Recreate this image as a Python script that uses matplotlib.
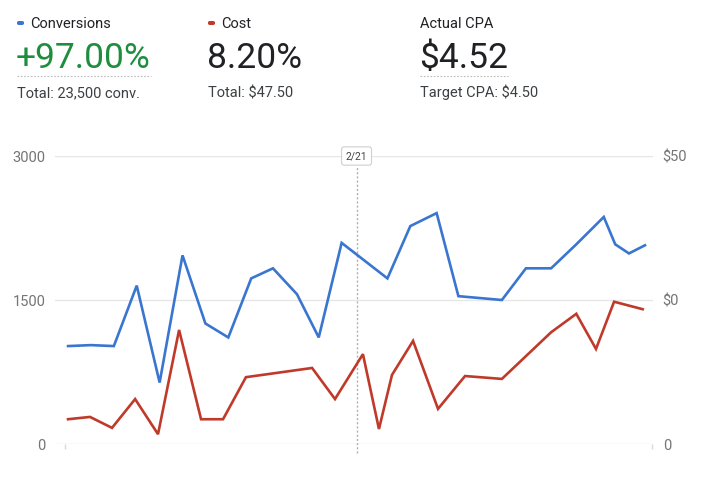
import matplotlib.pyplot as plt
from matplotlib.patches import FancyBboxPatch
from matplotlib.lines import Line2D

plt.rcParams['font.family'] = ['Roboto', 'DejaVu Sans']

# 数据
conv_days = [0, 1, 2, 3, 4, 5, 6, 7, 8, 8.95, 10, 10.95, 11.95, 13.95, 14.95,
             16.1, 17.05, 18.95, 20, 21.1, 22.2, 23.4, 23.9, 24.5, 25.2]
conversions = [1020, 1030, 1020, 1650, 640, 1965, 1255, 1110, 1725, 1830, 1560, 1110,
               2095, 1725, 2270, 2405, 1540, 1500, 1830, 1830, 2080, 2365, 2080, 1985, 2070]

cost_days = [0, 0.96, 1.92, 2.93, 3.93, 4.85, 5.81, 6.77, 7.77, 10.66, 11.66, 12.88,
             13.58, 14.15, 15.07, 16.16, 17.34, 18.95, 21.1, 22.2, 23.06, 23.85, 25.1]
cost = [4.3, 4.7, 2.8, 7.8, 1.7, 19.8, 4.3, 4.3, 11.6, 13.2, 7.8, 15.6,
        2.6, 12.0, 17.9, 6.1, 11.8, 11.3, 19.4, 22.6, 16.5, 24.7, 23.4]

left_ticks = [0, 1500, 3000]
left_labels = ['0', '1500', '3000']
right_ticks = [0, 25, 50]
right_labels = ['0', '$0', '$50']

marker_day = 12.6
marker_label = '2/21'

# 顶部指标
metrics = [
    ('Conversions', '+97.00%', 'Total: 23,500 conv.', '#3a76d0', '#1e8e3e', True),
    ('Cost', '8.20%', 'Total: $47.50', '#c03a2b', '#202124', False),
    ('Actual CPA', '$4.52', 'Target CPA: $4.50', None, '#202124', True),
]
metric_x = [17, 208, 420]

BLUE = '#3a76d0'
RED = '#c03a2b'
W, H = 705, 486


def px(x, y):
    return x / W, 1 - y / H


fig = plt.figure(figsize=(7.05, 4.86), dpi=100)

# 图表区域
l, b = px(55, 444)
ax = fig.add_axes([l, b, 598 / W, 288 / H])
ax.set_xlim(-0.57, 25.55)
ax.set_ylim(0, 3000)
for s in ax.spines.values():
    s.set_visible(False)
ax.set_xticks([])
ax.set_yticks(left_ticks)
ax.set_yticklabels(left_labels)
ax.tick_params(axis='y', length=0, pad=7, labelsize=10.5, labelcolor='#757575')
for t in left_ticks:
    ax.axhline(t, color='#e6e6e6' if t else '#e0e0e0', lw=1, zorder=0)

ax.plot(conv_days, conversions, color=BLUE, lw=1.9, solid_joinstyle='miter', zorder=3)

ax2 = ax.twinx()
ax2.set_ylim(0, 50)
for s in ax2.spines.values():
    s.set_visible(False)
ax2.set_yticks(right_ticks)
ax2.set_yticklabels(right_labels)
ax2.tick_params(axis='y', length=0, pad=7, labelsize=10.5, labelcolor='#757575')
ax2.plot(cost_days, cost, color=RED, lw=1.9, solid_joinstyle='miter', zorder=3)

# 小刻度
ax.vlines([-0.13, 25.5], -50, 0, color='#dadada', lw=1, clip_on=False)

# 2/21 虚线
ax.vlines(marker_day, -95, 2900, color='#b0b0b0', lw=1, linestyles=(0, (1.5, 1.5)),
          clip_on=False, zorder=1)
ax.text(marker_day, 3000, marker_label, ha='center', va='center', fontsize=7.5,
        color='#444444', zorder=5,
        bbox=dict(boxstyle='round,pad=0.4,rounding_size=0.25', fc='white', ec='#d0d0d0', lw=0.8))

# 顶部文字
for (name, big, total, mcol, bcol, underline), x in zip(metrics, metric_x):
    tx = x
    if mcol is not None:
        mx, my = px(x, 25)
        fig.add_artist(FancyBboxPatch((mx, my), 7 / W, 4 / H,
                                      boxstyle='round,pad=0,rounding_size=0.003',
                                      transform=fig.transFigure, fc=mcol, ec='none'))
        tx = x + 13
    fig.text(*px(tx, 28), name, fontsize=10.5, color='#202124', va='baseline')
    fig.text(*px(x - 1, 68), big, fontsize=25.5, color=bcol, va='baseline')
    fig.text(*px(x, 97), total, fontsize=10.5, color='#3c4043', va='baseline')
    if underline:
        r = fig.canvas.get_renderer()
        t = fig.texts[-2]
        bb = t.get_window_extent(renderer=r)
        x0, y0 = px(x, 76)
        fig.add_artist(Line2D([x0, bb.x1 / W], [y0, y0], transform=fig.transFigure,
                              color='#bdbdbd', lw=0.8, ls=(0, (1.5, 1.5))))

fig.savefig('out.png', dpi=100)
